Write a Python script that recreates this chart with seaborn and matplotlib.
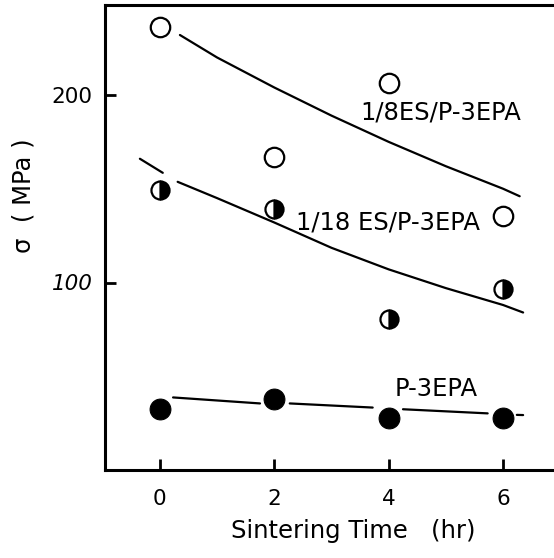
import matplotlib
matplotlib.use("Agg")
import matplotlib.pyplot as plt
import seaborn as sns
import pandas as pd

# ---- data ----
times = [0, 2, 4, 6]
es8 = [236.3, 167.2, 206.2, 135.3]      # 1/8ES/P-3EPA (open circles)
es18 = [149.5, 139.2, 80.7, 96.3]       # 1/18ES/P-3EPA (half-filled circles)
p3epa = [32.4, 38.1, 28.0, 27.7]        # P-3EPA (filled circles)

# guide curves, segment ids break the line
curve8_x = [0.35, 1, 2, 3, 4, 5, 6, 6.29]
curve8_y = [232, 220, 204, 189, 175, 162, 150, 146]
curve8_seg = [0, 0, 0, 0, 0, 0, 0, 0]

curve18_x = [-0.35, 0.05, 0.31, 1, 2, 3, 4, 5, 6, 6.35]
curve18_y = [166, 158.5, 153.7, 145, 132, 118.5, 107, 97, 88, 84]
curve18_seg = [0, 0, 1, 1, 1, 1, 1, 1, 1, 1]

curvep_x = [0.23, 1.75, 2.27, 3.72, 4.25, 5.73, 6.24, 6.35]
curvep_y = [38.7, 35.5, 35.5, 33.3, 32.4, 30.2, 29.4, 29.3]
curvep_seg = [0, 0, 1, 1, 2, 2, 3, 3]

xticks = [0, 2, 4, 6]
yticks = [100, 200]
ytick_labels = ["100", "200"]

series_labels = ["1/8ES/P-3EPA", "1/18 ES/P-3EPA", "P-3EPA"]

# ---- figure ----
sns.set_style("ticks")
plt.rcParams["font.family"] = ["DejaVu Sans"]
plt.rcParams["text.color"] = "black"
plt.rcParams["axes.labelcolor"] = "black"
plt.rcParams["xtick.color"] = "black"
plt.rcParams["ytick.color"] = "black"

fig = plt.figure(figsize=(5.54, 5.58), dpi=100)
ax = fig.add_axes([105 / 554, 88 / 558, 449 / 554, 465 / 558])

lw = 1.6
for cx, cy, cs in [(curve8_x, curve8_y, curve8_seg),
                   (curve18_x, curve18_y, curve18_seg),
                   (curvep_x, curvep_y, curvep_seg)]:
    df = pd.DataFrame({"x": cx, "y": cy, "seg": cs})
    sns.lineplot(data=df, x="x", y="y", units="seg", estimator=None,
                 sort=False, color="black", linewidth=lw, ax=ax, legend=False)

ms = 14
d8 = pd.DataFrame({"t": times, "s": es8})
sns.lineplot(data=d8, x="t", y="s", ax=ax, linestyle="", marker="o",
             markersize=ms, markerfacecolor="white", markeredgecolor="black",
             markeredgewidth=1.6, color="black", legend=False)

d18 = pd.DataFrame({"t": times, "s": es18})
sns.lineplot(data=d18, x="t", y="s", ax=ax, linestyle="", marker="o",
             markersize=ms - 1, fillstyle="right", markerfacecolor="black",
             markerfacecoloralt="white", markeredgecolor="black",
             markeredgewidth=1.6, color="black", legend=False)

dp = pd.DataFrame({"t": times, "s": p3epa})
sns.lineplot(data=dp, x="t", y="s", ax=ax, linestyle="", marker="o",
             markersize=ms + 1, markerfacecolor="black", markeredgecolor="black",
             color="black", legend=False)

# labels next to curves
ax.text(4.91, 190.4, series_labels[0], fontsize=17.5, ha="center", va="center")
ax.text(3.99, 131.9, series_labels[1], fontsize=17.5, ha="center", va="center")
ax.text(4.83, 43.1, series_labels[2], fontsize=17.5, ha="center", va="center")

ax.set_xlim(-0.96, 6.89)
ax.set_ylim(0, 248)
ax.set_xticks(xticks)
ax.set_xticklabels([str(t) for t in xticks])
ax.set_yticks(yticks)
ax.set_yticklabels(ytick_labels)
for lab in ax.get_yticklabels():
    if lab.get_text() == "100":
        lab.set_fontstyle("italic")

ax.tick_params(axis="both", direction="in", length=8, width=2,
               labelsize=15.5, color="black", labelcolor="black")
ax.tick_params(axis="x", pad=14)
ax.tick_params(axis="y", pad=9)

for side in ["left", "bottom", "top"]:
    ax.spines[side].set_linewidth(2.2)
    ax.spines[side].set_color("black")
ax.spines["right"].set_visible(False)

ax.set_xlabel("Sintering Time   (hr)", fontsize=17.5)
ax.set_ylabel("σ  ( MPa )", fontsize=17.5)
ax.xaxis.set_label_coords(0.552, -0.105)
ax.yaxis.set_label_coords(-0.155, 0.589)

fig.savefig("out.png", dpi=100)
